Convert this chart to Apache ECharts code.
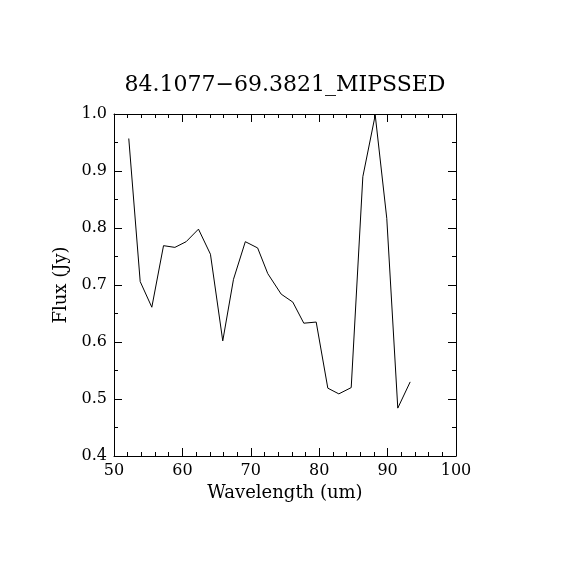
<!DOCTYPE html>
<html>
<head>
<meta charset="utf-8">
<script src="https://cdn.jsdelivr.net/npm/echarts@6/dist/echarts.min.js"></script>
<style>
  html, body { margin: 0; padding: 0; background: #fff; }
  #chart { width: 570px; height: 570px; }
</style>
</head>
<body>
<div id="chart"></div>
<script>
// values
var wavelength = [52.16, 53.83, 55.53, 57.24, 58.90, 60.55, 62.35, 64.10, 65.90, 67.47,
                  69.20, 71.00, 72.48, 74.44, 76.14, 77.75, 79.56, 81.26, 82.87, 84.68,
                  86.38, 88.19, 89.88, 91.49, 93.30];
var flux = [0.957, 0.706, 0.661, 0.769, 0.766, 0.776, 0.798, 0.754, 0.602, 0.710,
            0.776, 0.765, 0.720, 0.684, 0.670, 0.633, 0.635, 0.519, 0.509, 0.520,
            0.890, 0.998, 0.817, 0.484, 0.530];
var xTicks = [50, 60, 70, 80, 90, 100];
var yTicks = [0.4, 0.5, 0.6, 0.7, 0.8, 0.9, 1.0];

var font = 'DejaVu Serif';
var points = wavelength.map(function (w, i) { return [w, flux[i]]; });

function axisBase(extra) {
  var a = {
    axisLine: { show: true, onZero: false, lineStyle: { color: '#000', width: 1 } },
    axisTick: { show: true, inside: true, length: 8, lineStyle: { color: '#000', width: 1 } },
    minorTick: { show: true, length: 4, lineStyle: { color: '#000', width: 1 } },
    splitLine: { show: false },
    minorSplitLine: { show: false }
  };
  for (var k in extra) a[k] = extra[k];
  return a;
}

var chart = echarts.init(document.getElementById('chart'), null, { renderer: 'canvas' });
chart.setOption({
  backgroundColor: '#fff',
  animation: false,
  title: {
    text: '84.1077\u221269.3821_MIPSSED',
    left: 'center',
    top: 69,
    textStyle: { fontFamily: font, fontSize: 22, fontWeight: 'normal', color: '#000' }
  },
  grid: { left: 114, top: 114, width: 342, height: 342 },
  xAxis: [
    axisBase({
      type: 'value', min: xTicks[0], max: xTicks[xTicks.length - 1], interval: 10,
      position: 'bottom',
      minorTick: { show: true, splitNumber: 5, length: 4, lineStyle: { color: '#000', width: 1 } },
      name: 'Wavelength (um)', nameLocation: 'middle', nameGap: 27,
      nameTextStyle: { fontFamily: font, fontSize: 18, color: '#000' },
      axisLabel: { margin: 7, fontFamily: font, fontSize: 16, color: '#000' }
    }),
    axisBase({
      type: 'value', min: xTicks[0], max: xTicks[xTicks.length - 1], interval: 10,
      position: 'top',
      minorTick: { show: true, splitNumber: 5, length: 4, lineStyle: { color: '#000', width: 1 } },
      axisLabel: { show: false }
    })
  ],
  yAxis: [
    axisBase({
      type: 'value', min: yTicks[0], max: yTicks[yTicks.length - 1], interval: 0.1,
      position: 'left',
      minorTick: { show: true, splitNumber: 2, length: 4, lineStyle: { color: '#000', width: 1 } },
      name: 'Flux (Jy)', nameLocation: 'middle', nameGap: 43, nameRotate: 90,
      nameTextStyle: { fontFamily: font, fontSize: 18, color: '#000' },
      axisLabel: {
        margin: 7, fontFamily: font, fontSize: 16, color: '#000',
        formatter: function (v) { return v.toFixed(1); }
      }
    }),
    axisBase({
      type: 'value', min: yTicks[0], max: yTicks[yTicks.length - 1], interval: 0.1,
      position: 'right',
      minorTick: { show: true, splitNumber: 2, length: 4, lineStyle: { color: '#000', width: 1 } },
      axisLabel: { show: false }
    })
  ],
  series: [{
    type: 'line',
    data: points,
    xAxisIndex: 0,
    yAxisIndex: 0,
    showSymbol: false,
    symbol: 'none',
    lineStyle: { color: '#000', width: 1 },
    clip: true
  }]
});
</script>
</body>
</html>
